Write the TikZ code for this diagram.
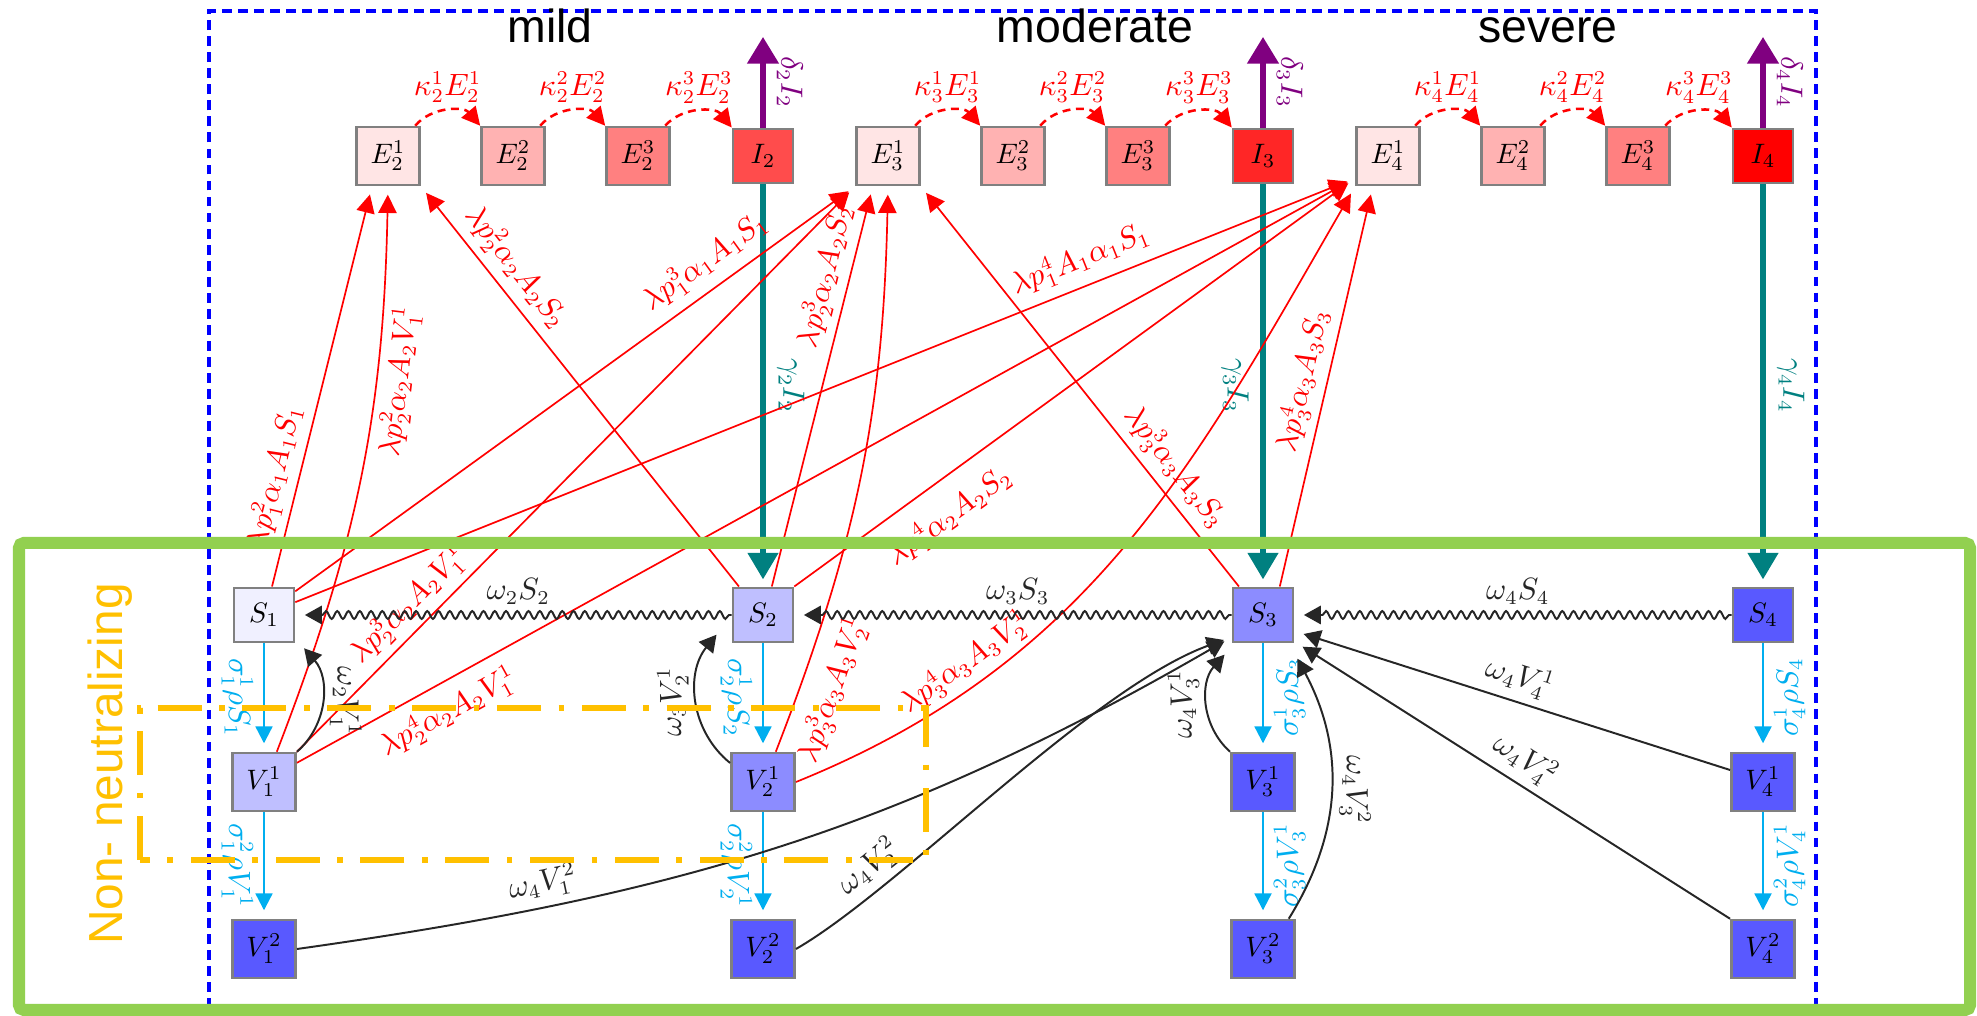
\documentclass[tikz,border=0pt]{standalone}
\usepackage{fontspec}
\newfontfamily\sansA{Liberation Sans}
\usetikzlibrary{arrows.meta,decorations.pathmorphing}
\definecolor{tealc}{RGB}{0,128,128}
\definecolor{purp}{RGB}{128,0,128}
\definecolor{cyanc}{RGB}{0,174,239}
\definecolor{grn}{RGB}{146,208,80}
\definecolor{orng}{RGB}{255,192,0}
\begin{document}
\begin{tikzpicture}[x=0.0125cm,y=0.0125cm,
 box/.style={draw=gray,line width=0.9pt,inner sep=5pt,minimum width=0.75cm,minimum height=0.68cm},
 lab/.style={font=\fontsize{10.5}{12}\selectfont,inner sep=2.5pt},
 vl/.style={lab,inner sep=4pt},
 cl/.style={lab,text=cyanc,inner sep=3.5pt,midway},
 inf/.style={red,line width=0.6pt,-{Triangle[length=6.5pt,width=6.5pt]},shorten >=3pt},
 rl/.style={lab,text=red,sloped},
 kap/.style={red,line width=0.9pt,dash pattern=on 2.8pt off 2pt,-{Triangle[length=6.5pt,width=6.5pt]}},
 vac/.style={cyanc,line width=0.8pt,-{Triangle[length=6pt,width=6pt]},shorten >=3pt},
 blk/.style={black!85,line width=0.7pt,-{Triangle[length=6pt,width=6.5pt]}},
 rec/.style={tealc,line width=2.2pt,-{Triangle[length=9.5pt,width=10.5pt]},shorten >=2.5pt},
 die/.style={purp,line width=1.8pt,-{Triangle[length=9.5pt,width=11pt]}},
 wav/.style={blk,decorate,decoration={snake,amplitude=1.4pt,segment length=4pt,post length=5pt,pre length=1pt}},
 ttl/.style={font=\sansA\fontsize{16.5}{20}\selectfont,anchor=base}
]
\useasboundingbox (0,0) rectangle (1977,1016);
\draw[blue,line width=1.3pt,dash pattern=on 3.5pt off 2.2pt] (209,8) rectangle (1816,1005);

% titles
\node[ttl] (tmild) at (550,973) {mild};
\node[ttl] (tmod) at (1095,973) {moderate};
\node[ttl] (tsev) at (1548,973) {severe};

% top row
\node[box,fill=red!10] (E21) at (388,860) {$E_2^1$};
\node[box,fill=red!30] (E22) at (513,860) {$E_2^2$};
\node[box,fill=red!50] (E23) at (638,860) {$E_2^3$};
\node[box,fill=red!70] (I2) at (763,860) {$I_2$};
\node[box,fill=red!10] (E31) at (888,860) {$E_3^1$};
\node[box,fill=red!30] (E32) at (1013,860) {$E_3^2$};
\node[box,fill=red!50] (E33) at (1138,860) {$E_3^3$};
\node[box,fill=red!85] (I3) at (1263,860) {$I_3$};
\node[box,fill=red!10] (E41) at (1388,860) {$E_4^1$};
\node[box,fill=red!30] (E42) at (1513,860) {$E_4^2$};
\node[box,fill=red!50] (E43) at (1638,860) {$E_4^3$};
\node[box,fill=red] (I4) at (1763,860) {$I_4$};

% bottom rows
\node[box,fill=blue!6] (S1) at (264,401) {$S_1$};
\node[box,fill=blue!25] (S2) at (763,401) {$S_2$};
\node[box,fill=blue!45] (S3) at (1263,401) {$S_3$};
\node[box,fill=blue!65] (S4) at (1763,401) {$S_4$};
\node[box,fill=blue!25] (V11) at (264,234) {$V_1^1$};
\node[box,fill=blue!45] (V21) at (763,234) {$V_2^1$};
\node[box,fill=blue!65] (V31) at (1263,234) {$V_3^1$};
\node[box,fill=blue!65] (V41) at (1763,234) {$V_4^1$};
\node[box,fill=blue!65] (V12) at (264,67) {$V_1^2$};
\node[box,fill=blue!65] (V22) at (763,67) {$V_2^2$};
\node[box,fill=blue!65] (V32) at (1263,67) {$V_3^2$};
\node[box,fill=blue!65] (V42) at (1763,67) {$V_4^2$};

\coordinate (D2) at (763,979);
\coordinate (D3) at (1263,979);
\coordinate (D4) at (1763,979);

% progression E -> E -> I
\foreach \a/\b/\k/\g in {E21/E22/1/2,E22/E23/2/2,E23/I2/3/2,E31/E32/1/3,E32/E33/2/3,E33/I3/3/3,E41/E42/1/4,E42/E43/2/4,E43/I4/3/4}
  \draw[kap] ([xshift=-0.07cm]\a.north east) to[bend left=50] node[lab,text=red,above] {$\kappa_{\g}^{\k}E_{\g}^{\k}$} (\b.north west);

% deaths
\draw[die] (I2) -- node[vl,text=purp,midway,rotate=-90,anchor=south] {$\delta_2I_2$} (D2);
\draw[die] (I3) -- node[vl,text=purp,midway,rotate=-90,anchor=south] {$\delta_3I_3$} (D3);
\draw[die] (I4) -- node[vl,text=purp,midway,rotate=-90,anchor=south] {$\delta_4I_4$} (D4);

% recovery
\draw[rec] (I2) -- node[vl,text=tealc,midway,rotate=-90,anchor=south] {$\gamma_2I_2$} (S2);
\draw[rec] (I3) -- node[vl,text=tealc,midway,rotate=-90,anchor=north] {$\gamma_3I_3$} (S3);
\draw[rec] (I4) -- node[vl,text=tealc,midway,rotate=-90,anchor=south] {$\gamma_4I_4$} (S4);

% infections
\draw[inf] ([xshift=0.1cm]S1.north) -- node[rl,pos=0.26,above] {$\lambda p_1^2\alpha_1A_1S_1$} ([xshift=-0.2cm]E21.south);
\draw[inf] ([xshift=0.16cm]V11.north) to[bend right=10] node[rl,pos=0.68,below] {$\lambda p_2^2\alpha_2A_2V_1^1$} (E21.south);
\draw[inf] ([xshift=0.09cm]S2.north west) -- node[rl,pos=0.76,above] {$\lambda p_2^2\alpha_2A_2S_2$} (E21.south east);
\draw[inf] ([yshift=-0.06cm]S1.north east) -- node[rl,pos=0.76,above=1pt] {$\lambda p_1^3\alpha_1A_1S_1$} (E31.south west);
\draw[inf] (V11.north east) -- node[rl,pos=0.23,above] {$\lambda p_2^3\alpha_2A_2V_1^1$} (E31.south west);
\draw[inf] ([xshift=0.11cm]S2.north) -- node[rl,pos=0.76,above] {$\lambda p_2^3\alpha_2A_2S_2$} ([xshift=-0.19cm]E31.south);
\draw[inf] ([xshift=0.16cm]V21.north) to[bend right=10] node[rl,pos=0.12,below=3pt] {$\lambda p_3^3\alpha_3A_3V_2^1$} (E31.south);
\draw[inf] ([xshift=0.09cm]S3.north west) -- node[rl,pos=0.26,above] {$\lambda p_3^3\alpha_3A_3S_3$} (E31.south east);
\draw[inf] ([yshift=0.16cm]S1.east) -- node[rl,pos=0.75,above=1pt] {$\lambda p_1^4A_1\alpha_1S_1$} ([yshift=0.1cm]E41.south west);
\draw[inf] (S2.north east) -- node[rl,pos=0.24,below=4pt] {$\lambda p_2^4\alpha_2A_2S_2$} ([yshift=0.1cm]E41.south west);
\draw[inf] ([yshift=0.24cm]V11.east) -- node[rl,pos=0.13,below=2pt] {$\lambda p_2^4\alpha_2A_2V_1^1$} ([yshift=0.1cm]E41.south west);
\draw[inf] (V21.east) to[out=22,in=240] node[rl,pos=0.24,above] {$\lambda p_3^4\alpha_3A_3V_2^1$} (E41.south west);
\draw[inf] ([xshift=0.21cm]S3.north) -- node[rl,pos=0.5,above] {$\lambda p_3^4\alpha_3A_3S_3$} ([xshift=-0.19cm]E41.south);

% vaccination
\draw[vac] (S1) -- node[cl,rotate=-90,anchor=north] {$\sigma_1^1\rho S_1$} (V11);
\draw[vac] (V11) -- node[cl,rotate=-90,anchor=north] {$\sigma_1^2\rho V_1^1$} (V12);
\draw[vac] (S2) -- node[cl,rotate=-90,anchor=north] {$\sigma_2^1\rho S_2$} (V21);
\draw[vac] (V21) -- node[cl,rotate=-90,anchor=north] {$\sigma_2^2\rho V_2^1$} (V22);
\draw[vac] (S3) -- node[cl,rotate=90,anchor=north] {$\sigma_3^1\rho S_3$} (V31);
\draw[vac] (V31) -- node[cl,rotate=90,anchor=north] {$\sigma_3^2\rho V_3^1$} (V32);
\draw[vac] (S4) -- node[cl,rotate=90,anchor=north] {$\sigma_4^1\rho S_4$} (V41);
\draw[vac] (V41) -- node[cl,rotate=90,anchor=north] {$\sigma_4^2\rho V_4^1$} (V42);

% waning
\draw[wav] (S2.west) -- node[lab,above=1pt] {$\omega_2S_2$} ([xshift=0.12cm]S1.east);
\draw[wav] (S3.west) -- node[lab,above=1pt] {$\omega_3S_3$} ([xshift=0.12cm]S2.east);
\draw[wav] (S4.west) -- node[lab,above=1pt] {$\omega_4S_4$} ([xshift=0.12cm]S3.east);
\draw[blk] (V11.north east) to[bend right=45] node[lab,midway,rotate=-90,anchor=south] {$\omega_2V_1^1$} ([xshift=0.11cm,yshift=-0.06cm]S1.south east);
\draw[blk] ([yshift=-0.14cm]V21.north west) to[bend left=45] node[lab,midway,rotate=90,anchor=south] {$\omega_3V_2^1$} ([xshift=-0.19cm,yshift=0.11cm]S2.south west);
\draw[blk] (V31.north west) to[bend left=45] node[lab,midway,rotate=90,anchor=south] {$\omega_4V_3^1$} ([xshift=-0.09cm,yshift=-0.14cm]S3.south west);
\draw[blk] ([xshift=-0.09cm]V32.north east) to[bend right=30] node[lab,midway,rotate=-90,anchor=south] {$\omega_4V_3^2$} ([xshift=0.04cm,yshift=-0.19cm]S3.south east);
\draw[blk,shorten >=3.5pt] ([yshift=0.15cm]V41.west) -- node[lab,midway,sloped,above] {$\omega_4V_4^1$} ([yshift=-0.2cm]S3.east);
\draw[blk,shorten >=3.5pt] (V42.north west) -- node[lab,midway,sloped,above] {$\omega_4V_4^2$} ([yshift=-0.33cm]S3.east);
\draw[blk,shorten >=3pt] (V12.east) to[out=8,in=210] node[lab,pos=0.24,sloped,above] {$\omega_4V_1^2$} ([yshift=0.08cm]S3.south west);
\draw[blk,shorten >=3pt] (V22.east) .. controls +(30:120) and +(200:150) .. node[lab,pos=0.24,sloped,above] {$\omega_4V_2^2$} ([yshift=0.08cm]S3.south west);

% overlays
\draw[orng,line width=1.8pt,dash pattern=on 0.55cm off 0.22cm on 0.07cm off 0.22cm] (140,156) rectangle (926,308);
\draw[grn,line width=0.15cm,rounded corners=0.06cm] (19,6) rectangle (1970,473);
\node[text=orng,rotate=90,font=\sansA\fontsize{17}{20}\selectfont] (nn) at (110,252) {Non- neutralizing};
\end{tikzpicture}
\end{document}
